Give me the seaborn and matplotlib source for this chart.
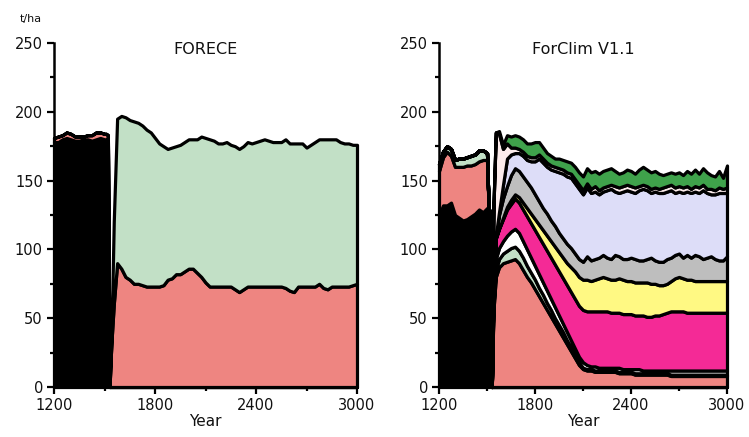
import matplotlib
matplotlib.use("Agg")
import matplotlib.pyplot as plt
from matplotlib.ticker import MultipleLocator, FixedLocator
import seaborn as sns
import pandas as pd

# ---------------- data ----------------
years = [1200, 1225, 1250, 1275, 1300, 1325, 1350, 1375, 1400, 1425, 1450, 1475, 1500,
         1510, 1520, 1530, 1540, 1555, 1575,
         1600, 1625, 1650, 1675, 1700, 1725, 1750, 1775, 1800, 1825, 1850, 1875, 1900, 1925, 1950, 1975,
         2000, 2025, 2050, 2075, 2100, 2125, 2150, 2175, 2200, 2225, 2250, 2275, 2300, 2325, 2350, 2375,
         2400, 2425, 2450, 2475, 2500, 2525, 2550, 2575, 2600, 2625, 2650, 2675, 2700, 2725, 2750, 2775,
         2800, 2825, 2850, 2875, 2900, 2925, 2950, 2975, 3000]

# FORECE (left panel), t/ha per species, bottom to top
forece_black = [178, 178, 180, 181, 180, 179, 179, 180, 180, 179, 180, 181, 180,
                180, 179, 0, 0, 0, 0,
                0, 0, 0, 0, 0, 0, 0, 0, 0, 0, 0, 0, 0, 0, 0, 0,
                0, 0, 0, 0, 0, 0, 0, 0, 0, 0, 0, 0, 0, 0, 0, 0,
                0, 0, 0, 0, 0, 0, 0, 0, 0, 0, 0, 0, 0, 0, 0, 0,
                0, 0, 0, 0, 0, 0, 0, 0, 0]
forece_red = [3, 4, 3, 4, 4, 3, 3, 2, 3, 4, 5, 4, 4,
              4, 4, 0, 30, 60, 90,
              86, 80, 78, 75, 75, 74, 73, 73, 73, 73, 74, 78, 79, 82, 82, 84,
              86, 86, 83, 80, 76, 73, 73, 73, 73, 73, 73, 71, 69, 71, 73, 73,
              73, 73, 73, 73, 73, 73, 73, 72, 70, 69, 73, 73, 73, 73, 73, 75,
              72, 71, 73, 73, 73, 73, 73, 74, 75]
forece_green = [0, 0, 0, 0, 0, 0, 0, 0, 0, 0, 0, 0, 0,
                0, 0, 0, 0, 60, 105,
                111, 116, 116, 118, 117, 116, 114, 112, 108, 104, 101, 95, 95, 93, 94, 94,
                94, 94, 97, 102, 105, 107, 106, 104, 104, 105, 103, 104, 104, 104, 105, 104,
                105, 106, 107, 106, 105, 105, 105, 108, 107, 108, 104, 104, 101, 103, 105, 105,
                108, 109, 107, 107, 105, 104, 104, 102, 101]

# ForClim V1.1 (right panel), t/ha per species, bottom to top
forclim_black = [124, 132, 132, 134, 125, 123, 121, 122, 124, 126, 129, 127, 130,
                 130, 126, 0, 0, 0, 0,
                 0, 0, 0, 0, 0, 0, 0, 0, 0, 0, 0, 0, 0, 0, 0, 0,
                 0, 0, 0, 0, 0, 0, 0, 0, 0, 0, 0, 0, 0, 0, 0, 0,
                 0, 0, 0, 0, 0, 0, 0, 0, 0, 0, 0, 0, 0, 0, 0, 0,
                 0, 0, 0, 0, 0, 0, 0, 0, 0]
forclim_salmon = [33, 35, 39, 34, 35, 37, 39, 39, 37, 36, 35, 38, 35,
                  0, 0, 0, 55, 80, 87,
                  90, 91, 92, 93, 90, 85, 80, 76, 71, 66, 61, 56, 51, 46, 41, 36,
                  31, 26, 21, 16, 13, 12, 12, 11, 11, 11, 11, 11, 11, 10, 10, 10,
                  10, 9, 9, 9, 9, 9, 9, 9, 9, 9, 8, 8, 8, 8, 8, 8,
                  8, 8, 8, 8, 8, 8, 8, 8, 8]
forclim_lgreen = [5, 4, 4, 5, 5, 6, 6, 6, 7, 7, 8, 7, 5,
                  0, 0, 0, 3, 5, 6,
                  7, 8, 9, 9, 9, 9, 8, 7, 7, 6, 6, 5, 5, 4, 4, 4,
                  3, 3, 2, 2, 1, 1, 1, 1, 1, 1, 1, 1, 1, 1, 1, 1,
                  1, 1, 1, 1, 1, 1, 1, 1, 1, 1, 1, 1, 1, 1, 1, 1,
                  1, 1, 1, 1, 1, 1, 1, 1, 1]
forclim_white = [0, 0, 0, 0, 0, 0, 0, 0, 0, 0, 0, 0, 0,
                 0, 0, 0, 4, 8, 8,
                 9, 11, 12, 13, 13, 12, 12, 11, 10, 10, 9, 9, 8, 8, 7, 6,
                 6, 5, 5, 4, 4, 3, 2, 3, 2, 2, 2, 2, 2, 3, 2, 2,
                 2, 3, 3, 2, 2, 2, 2, 2, 2, 2, 3, 3, 3, 3, 3, 3,
                 3, 3, 3, 3, 3, 3, 3, 3, 3]
forclim_magenta = [0, 0, 0, 0, 0, 0, 0, 0, 0, 0, 0, 0, 0,
                   0, 0, 0, 6, 15, 14,
                   16, 19, 20, 22, 22, 23, 24, 25, 26, 27, 28, 29, 30, 31, 32, 33,
                   34, 35, 36, 37, 38, 39, 40, 40, 41, 41, 41, 40, 40, 40, 40, 40,
                   40, 39, 39, 40, 39, 39, 40, 40, 41, 42, 43, 43, 43, 43, 42, 42,
                   42, 42, 42, 42, 42, 42, 42, 42, 42]
forclim_yellow = [0, 0, 0, 0, 0, 0, 0, 0, 0, 0, 0, 0, 0,
                  0, 0, 0, 0, 0, 0,
                  1, 2, 3, 3, 4, 5, 6, 7, 8, 9, 10, 11, 12, 13, 14, 15,
                  16, 18, 20, 21, 22, 23, 22, 23, 24, 25, 24, 24, 24, 25, 25, 24,
                  24, 24, 24, 24, 25, 24, 23, 22, 21, 21, 22, 24, 25, 24, 24, 24,
                  23, 23, 23, 23, 23, 23, 23, 23, 23]
forclim_gray = [0, 0, 0, 0, 0, 0, 0, 0, 0, 0, 0, 0, 0,
                0, 0, 0, 0, 2, 10,
                14, 15, 18, 19, 19, 19, 19, 19, 18, 17, 16, 16, 15, 15, 14, 14,
                14, 14, 13, 13, 13, 17, 15, 15, 15, 16, 15, 15, 18, 16, 15, 16,
                17, 17, 16, 16, 17, 19, 17, 17, 17, 18, 17, 17, 17, 15, 18, 16,
                19, 18, 16, 17, 18, 16, 15, 15, 18]
forclim_lavender = [0, 0, 0, 0, 0, 0, 0, 0, 0, 0, 0, 0, 0,
                    0, 0, 0, 0, 0, 2,
                    10, 20, 15, 11, 13, 15, 16, 19, 24, 31, 33, 34, 37, 40, 44, 47,
                    49, 51, 51, 51, 49, 50, 49, 49, 46, 46, 49, 51, 46, 46, 49, 50,
                    48, 48, 51, 52, 50, 47, 50, 50, 50, 49, 49, 45, 45, 47, 46, 47,
                    46, 46, 50, 47, 45, 47, 49, 49, 46]
forclim_pink = [0, 0, 0, 0, 0, 0, 0, 0, 0, 0, 0, 0, 0,
                0, 0, 0, 62, 75, 57,
                26, 11, 5, 4, 3, 3, 3, 3, 3, 3, 3, 3, 3, 3, 3, 3,
                3, 3, 3, 3, 3, 3, 3, 4, 3, 3, 3, 3, 4, 4, 4, 4,
                4, 4, 3, 3, 3, 3, 3, 3, 4, 4, 4, 4, 4, 4, 4, 3,
                4, 4, 4, 3, 4, 3, 4, 3, 4]
forclim_dgreen = [0, 0, 0, 0, 0, 0, 0, 0, 0, 0, 0, 0, 0,
                  0, 0, 0, 0, 0, 2,
                  3, 6, 8, 9, 9, 9, 9, 10, 11, 9, 8, 7, 7, 6, 7, 7,
                  8, 8, 9, 9, 10, 11, 12, 11, 12, 12, 12, 12, 11, 10, 10, 11,
                  11, 10, 12, 13, 12, 12, 12, 11, 9, 9, 9, 10, 10, 9, 11, 11,
                  12, 10, 12, 12, 10, 10, 12, 8, 16]

titles = ["FORECE", "ForClim V1.1"]
x_major = [1200, 1800, 2400, 3000]
x_minor = [1500, 2100, 2700]

BLACK = "#000000"
SALMON = "#EE8581"
LGREEN = "#C2E0C6"
WHITE = "#FFFFFF"
MAGENTA = "#F42A96"
YELLOW = "#FFF983"
GRAY = "#BEBEBE"
LAVENDER = "#DDDDF8"
PINK = "#FCECEC"
DGREEN = "#3FA24B"

left_df = pd.DataFrame({"year": years, "black": forece_black, "red": forece_red,
                        "green": forece_green})
right_df = pd.DataFrame({"year": years, "black": forclim_black, "salmon": forclim_salmon,
                         "lgreen": forclim_lgreen, "white": forclim_white,
                         "magenta": forclim_magenta, "yellow": forclim_yellow,
                         "gray": forclim_gray, "lavender": forclim_lavender,
                         "pink": forclim_pink, "dgreen": forclim_dgreen})

sns.set_theme(style="ticks")
plt.rcParams["font.family"] = ["DejaVu Sans"]

fig = plt.figure(figsize=(7.49, 4.37), dpi=100)
W, H = 749, 437
ax1 = fig.add_axes([54 / W, 1 - 387 / H, (357 - 54) / W, 344 / H])
ax2 = fig.add_axes([439 / W, 1 - 387 / H, (727 - 439) / W, 344 / H])

panels = [
    (ax1, left_df, ["black", "red", "green"], [BLACK, SALMON, LGREEN]),
    (ax2, right_df, ["black", "salmon", "lgreen", "white", "magenta", "yellow", "gray",
                     "lavender", "pink", "dgreen"],
     [BLACK, SALMON, LGREEN, WHITE, MAGENTA, YELLOW, GRAY, LAVENDER, PINK, DGREEN]),
]

for (ax, df, cols, colors), title in zip(panels, titles):
    polys = ax.stackplot(df["year"], *[df[c] for c in cols], colors=colors,
                         edgecolor="black", linewidth=2.3)
    for p in polys:
        p.set_clip_on(False)
        p.set_joinstyle("round")
    ax.set_xlim(1200, 3000)
    ax.set_ylim(0, 250)
    ax.xaxis.set_major_locator(FixedLocator(x_major))
    ax.xaxis.set_minor_locator(FixedLocator(x_minor))
    ax.yaxis.set_major_locator(MultipleLocator(50))
    ax.yaxis.set_minor_locator(MultipleLocator(25))
    ax.tick_params(which="major", direction="out", length=5, width=1.6,
                   labelsize=10.5, color="black", labelcolor="#111111", pad=3)
    ax.tick_params(which="minor", direction="out", length=3, width=1.6, color="black")
    sns.despine(ax=ax)
    for s in ["left", "bottom"]:
        ax.spines[s].set_linewidth(1.8)
        ax.spines[s].set_color("black")
        ax.spines[s].set_zorder(5)
    ax.set_facecolor("white")
    ax.grid(False)
    ax.set_xlabel("Year", fontsize=11, labelpad=1, color="#111111")
    ax.text(0.5, 0.982, title, transform=ax.transAxes, ha="center", va="center",
            fontsize=11.5, color="#111111")

fig.text(20 / W, 1 - 19 / H, "t/ha", fontsize=8, va="center", ha="left", color="#111111")

fig.savefig("out.png", dpi=100, facecolor="white")
